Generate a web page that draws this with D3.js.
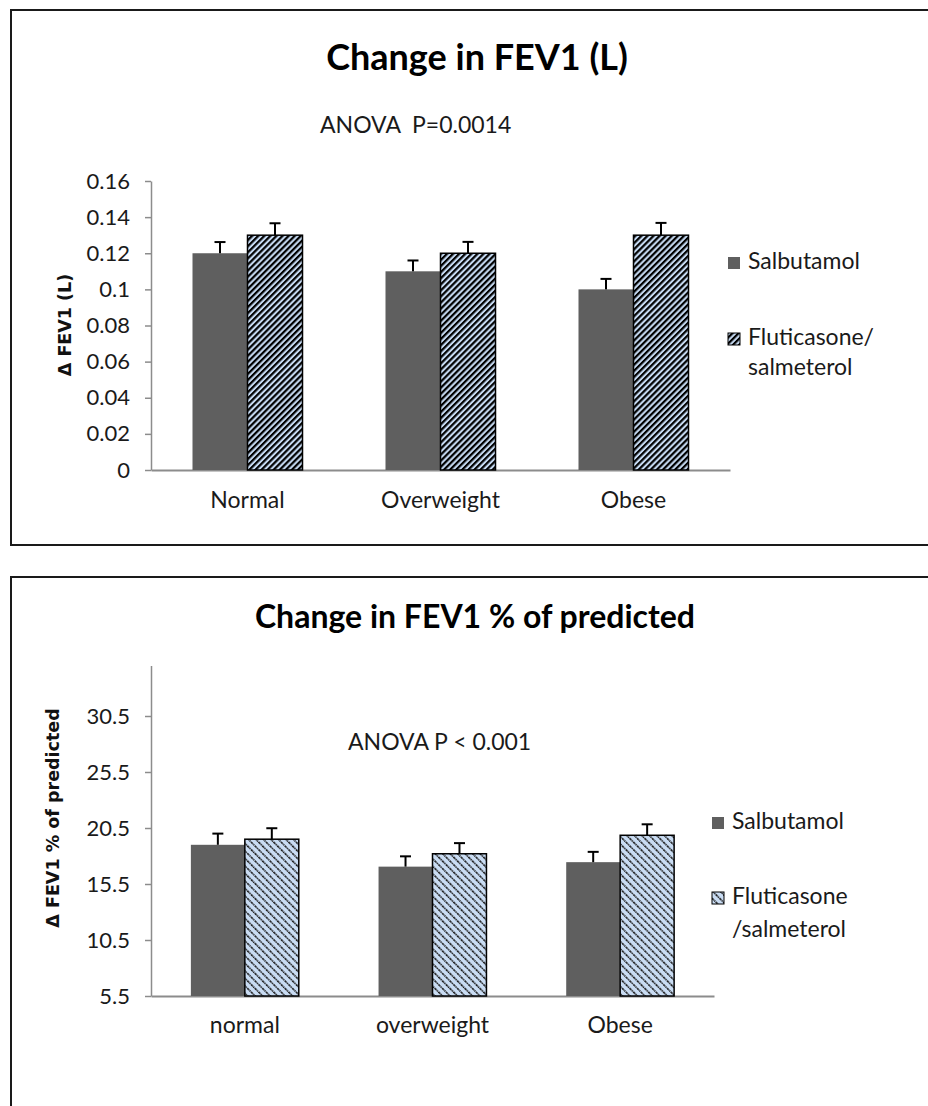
<!DOCTYPE html>
<html>
<head>
<meta charset="utf-8">
<script src="https://cdn.jsdelivr.net/npm/d3@7"></script>
<style>
  body { margin: 0; background: #fff; }
  svg { display: block; }
</style>
</head>
<body>
<div id="chart"></div>
<script>
// Panel 1: change in FEV1 (L)
const groupsL = ["Normal", "Overweight", "Obese"];
const salbutamolL = [0.12, 0.11, 0.10];
const fluticasoneL = [0.13, 0.12, 0.13];
const salbutamolErrL = [0.0062, 0.006, 0.0058];
const fluticasoneErrL = [0.0066, 0.0063, 0.0068];
const ticksL = [0, 0.02, 0.04, 0.06, 0.08, 0.1, 0.12, 0.14, 0.16];

// Panel 2: change in FEV1 % of predicted
const groupsPct = ["normal", "overweight", "Obese"];
const salbutamolPct = [19.0, 17.05, 17.45];
const fluticasonePct = [19.5, 18.2, 19.85];
const salbutamolErrPct = [1.0, 0.92, 0.92];
const fluticasoneErrPct = [0.98, 0.95, 0.98];
const ticksPct = [5.5, 10.5, 15.5, 20.5, 25.5, 30.5];

const FONT = "Lato, 'Open Sans', sans-serif";
const AXIS_FONT = "'DejaVu Sans', sans-serif";

const svg = d3.select("#chart").append("svg")
    .attr("width", 928)
    .attr("height", 1106);

const defs = svg.append("defs");

// diagonal hatch fills
function hatch(id, angle, period, stripe, color, bg, dash) {
  const p = defs.append("pattern")
    .attr("id", id)
    .attr("patternUnits", "userSpaceOnUse")
    .attr("width", period)
    .attr("height", period)
    .attr("patternTransform", `rotate(${angle})`);
  p.append("rect").attr("width", period).attr("height", period).attr("fill", bg);
  p.append("line")
    .attr("x1", stripe / 2).attr("x2", stripe / 2)
    .attr("y1", 0).attr("y2", period)
    .attr("stroke", color)
    .attr("stroke-width", stripe)
    .attr("stroke-dasharray", dash || null);
}
hatch("hatchUp", 45, 4.3, 2.2, "#000", "#c5d9f1");
hatch("hatchDown", -45, 5.3, 1.6, "#1e1e1e", "#c9dcf3", "1.6,0.6");

function drawPanel(o) {
  const g = svg.append("g");

  // frame
  g.append("rect")
    .attr("x", 11).attr("y", o.frameTop)
    .attr("width", 1000).attr("height", o.frameH)
    .attr("fill", "none")
    .attr("stroke", "#1a1a1a")
    .attr("stroke-width", 2);

  g.append("text")
    .attr("x", o.titleX).attr("y", o.titleY)
    .attr("text-anchor", "middle")
    .attr("font-family", FONT)
    .attr("font-size", o.titleSize)
    .attr("font-weight", 700)
    .attr("fill", "#000")
    .text(o.title);

  g.append("text")
    .attr("x", o.noteX).attr("y", o.noteY)
    .attr("font-family", FONT)
    .attr("font-size", 23)
    .attr("fill", "#1a1a1a")
    .style("white-space", "pre")
    .text(o.note);

  const x = d3.scaleBand()
    .domain(o.groups)
    .range(o.xRange)
    .paddingInner(o.pad)
    .paddingOuter(o.pad / 2);
  const xs = d3.scaleBand().domain([0, 1]).range([0, x.bandwidth()]);
  const y = d3.scaleLinear().domain(o.domain).range(o.yRange);

  // axes
  const ya = g.append("g")
    .attr("transform", `translate(${o.xRange[0]},0)`)
    .call(d3.axisLeft(y).tickValues(o.ticks).tickSize(6).tickSizeOuter(0)
      .tickPadding(15).tickFormat(o.fmt));
  ya.attr("font-family", FONT).attr("font-size", 22);
  ya.selectAll("path, line").attr("stroke", "#8c8c8c").attr("stroke-width", 1.5);
  ya.selectAll("text").attr("fill", "#1a1a1a");

  const xa = g.append("g")
    .attr("transform", `translate(0,${o.yRange[0]})`)
    .call(d3.axisBottom(x).tickSize(0).tickSizeOuter(0).tickPadding(o.labelPad));
  xa.attr("font-family", FONT).attr("font-size", 23);
  xa.select(".domain").attr("stroke", "#8c8c8c").attr("stroke-width", 2);
  xa.selectAll("text").attr("fill", "#1a1a1a");

  g.append("text")
    .attr("transform", `translate(${o.yTitleX},${o.yTitleY}) rotate(-90)`)
    .attr("text-anchor", "middle")
    .attr("font-family", AXIS_FONT)
    .attr("font-size", 17.5)
    .attr("font-weight", 700)
    .attr("fill", "#111")
    .text(o.yTitle);

  const series = [
    { vals: o.s1, errs: o.e1, fill: "#5f5f5f", stroke: "none" },
    { vals: o.s2, errs: o.e2, fill: `url(#${o.hatchId})`, stroke: "#000" }
  ];

  series.forEach((s, si) => {
    const bars = g.append("g");
    bars.selectAll("rect")
      .data(o.groups)
      .enter().append("rect")
      .attr("x", d => x(d) + xs(si))
      .attr("y", (d, i) => y(s.vals[i]))
      .attr("width", xs.bandwidth())
      .attr("height", (d, i) => y(o.domain[0]) - y(s.vals[i]))
      .attr("fill", s.fill)
      .attr("stroke", s.stroke)
      .attr("stroke-width", 1.5);

    // error bars (upper only)
    const err = g.append("g").attr("stroke", "#000").attr("stroke-width", 2);
    o.groups.forEach((d, i) => {
      const cx = x(d) + xs(si) + xs.bandwidth() / 2;
      const top = y(s.vals[i] + s.errs[i]);
      err.append("line").attr("x1", cx).attr("x2", cx).attr("y1", y(s.vals[i])).attr("y2", top);
      err.append("line").attr("x1", cx - 5.5).attr("x2", cx + 5.5).attr("y1", top).attr("y2", top);
    });
  });

  // legend
  const lg = g.append("g").attr("font-family", FONT).attr("font-size", 23).attr("fill", "#1a1a1a");
  o.legend.forEach((item, i) => {
    lg.append("rect")
      .attr("x", o.legendX).attr("y", item.y)
      .attr("width", 12).attr("height", 12)
      .attr("fill", series[i].fill)
      .attr("stroke", i === 1 ? "#000" : "none")
      .attr("stroke-width", 1);
    item.lines.forEach((line, li) => {
      lg.append("text")
        .attr("x", o.legendX + 20)
        .attr("y", item.y + 12 + li * o.legendLH)
        .text(line);
    });
  });
}

drawPanel({
  frameTop: 10, frameH: 535,
  title: "Change in FEV1 (L)", titleX: 477, titleY: 70, titleSize: 36,
  note: "ANOVA  P=0.0014", noteX: 320, noteY: 133,
  groups: groupsL, s1: salbutamolL, s2: fluticasoneL,
  e1: salbutamolErrL, e2: fluticasoneErrL,
  ticks: ticksL, domain: [0, 0.16], yRange: [470, 181],
  xRange: [151, 730], pad: 0.43, labelPad: 22,
  fmt: d => String(+d.toFixed(2)),
  yTitle: "Δ FEV1 (L)", yTitleX: 71, yTitleY: 325,
  hatchId: "hatchUp",
  legendX: 728, legendLH: 30,
  legend: [
    { y: 257, lines: ["Salbutamol"] },
    { y: 333, lines: ["Fluticasone/", "salmeterol"] }
  ]
});

drawPanel({
  frameTop: 577, frameH: 700,
  title: "Change in FEV1 % of predicted", titleX: 475, titleY: 628, titleSize: 32,
  note: "ANOVA P < 0.001", noteX: 348, noteY: 750,
  groups: groupsPct, s1: salbutamolPct, s2: fluticasonePct,
  e1: salbutamolErrPct, e2: fluticasoneErrPct,
  ticks: ticksPct, domain: [5.5, 35], yRange: [996, 665.6],
  xRange: [151, 714], pad: 0.425, labelPad: 21,
  fmt: d3.format(".1f"),
  yTitle: "Δ FEV1 % of predicted", yTitleX: 59, yTitleY: 818,
  hatchId: "hatchDown",
  legendX: 712, legendLH: 33,
  legend: [
    { y: 817, lines: ["Salbutamol"] },
    { y: 892, lines: ["Fluticasone", "/salmeterol"] }
  ]
});
</script>
</body>
</html>
